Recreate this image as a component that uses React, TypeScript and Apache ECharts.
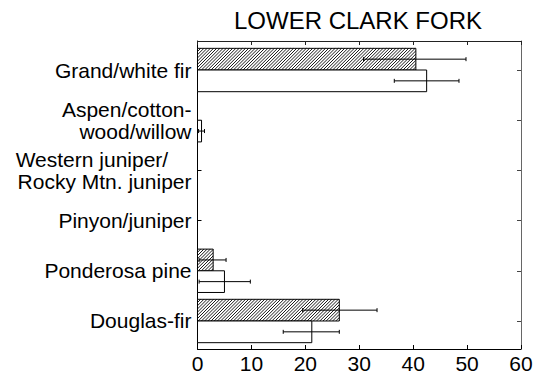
import React, { useEffect, useRef } from "react";
import * as echarts from "echarts";

// Categories from bottom (position 1) to top (position 6)
const categories = [
  "Douglas-fir",
  "Ponderosa pine",
  "Pinyon/juniper",
  "Western juniper/\u00A0\u00A0\u00A0\u00A0\nRocky Mtn. juniper",
  "Aspen/cotton-\nwood/willow",
  "Grand/white fir",
];
const categoryPositions = [1, 2, 3, 4, 5, 6];

// Hatched (upper) bars
const hatchedValues = [26.3, 2.9, 0, 0, 0, 40.5];
const hatchedLow = [19.5, 0.3, 0, 0, 0, 30.8];
const hatchedHigh = [33.3, 5.3, 0, 0, 0, 49.8];

// Open (lower) bars
const openValues = [21.2, 5.0, 0, 0, 0.75, 42.5];
const openLow = [15.9, 0.3, 0, 0, 0.2, 36.5];
const openHigh = [26.3, 9.8, 0, 0, 1.3, 48.5];

const xTicks = [0, 10, 20, 30, 40, 50, 60];
const chartTitle = "LOWER CLARK FORK";

const FONT = "'Liberation Sans', Arial, Helvetica, sans-serif";

function buildData() {
  const rows: number[][] = [];
  categoryPositions.forEach((pos, i) => {
    rows.push([hatchedValues[i], pos, hatchedLow[i], hatchedHigh[i], 0]);
    rows.push([openValues[i], pos, openLow[i], openHigh[i], 1]);
  });
  return rows;
}

function renderItem(params: any, api: any) {
  const v = api.value(0) as number;
  const pos = api.value(1) as number;
  const lo = api.value(2) as number;
  const hi = api.value(3) as number;
  const kind = api.value(4) as number;
  if (v <= 0 && hi <= 0) return null;
  const c0 = api.coord([0, pos]);
  const c1 = api.coord([v, pos]);
  const bandPx = api.size([0, 1])[1];
  const h = bandPx * 0.432;
  const y0 = kind === 0 ? c0[1] - h : c0[1];
  const x0 = c0[0];
  const x1 = c1[0];
  const children: any[] = [];
  if (v > 0) {
    children.push({
      type: "rect",
      shape: { x: x0, y: y0, width: x1 - x0, height: h },
      style: { fill: "#fff", stroke: "none" },
    });
    if (kind === 0) {
      const step = 3.2;
      const ya = y0;
      const yb = y0 + h;
      for (let c = x0 + ya; c <= x1 + yb; c += step) {
        const sx = Math.max(x0, c - yb);
        const ex = Math.min(x1, c - ya);
        if (ex > sx) {
          children.push({
            type: "line",
            shape: { x1: sx, y1: c - sx, x2: ex, y2: c - ex },
            style: { stroke: "#000", lineWidth: 0.9 },
          });
        }
      }
    }
    children.push({
      type: "rect",
      shape: { x: x0, y: y0, width: x1 - x0, height: h },
      style: { fill: "none", stroke: "#000", lineWidth: 1 },
    });
  }
  if (hi > 0) {
    const yc = y0 + h / 2;
    const xl = api.coord([lo, pos])[0];
    const xh = api.coord([hi, pos])[0];
    const cap = 2;
    children.push({
      type: "line",
      shape: { x1: xl, y1: yc, x2: xh, y2: yc },
      style: { stroke: "#000", lineWidth: 1 },
    });
    children.push({
      type: "line",
      shape: { x1: xl, y1: yc - cap, x2: xl, y2: yc + cap },
      style: { stroke: "#000", lineWidth: 1 },
    });
    children.push({
      type: "line",
      shape: { x1: xh, y1: yc - cap, x2: xh, y2: yc + cap },
      style: { stroke: "#000", lineWidth: 1 },
    });
  }
  return { type: "group", children };
}

export default function App() {
  const ref = useRef<HTMLDivElement>(null);
  useEffect(() => {
    if (!ref.current) return;
    const chart = echarts.init(ref.current, null, { renderer: "svg" });
    const yMin = 0.442;
    const yMax = 6.578;
    const xMin = xTicks[0];
    const xMax = xTicks[xTicks.length - 1];
    const xInterval = xTicks[1] - xTicks[0];
    chart.setOption({
      animation: false,
      backgroundColor: "#fff",
      grid: { left: 197.5, top: 41, width: 323.5, height: 308, containLabel: false },
      graphic: [
        {
          type: "text",
          x: 358,
          y: 20,
          style: {
            text: chartTitle,
            fontFamily: FONT,
            fontSize: 24,
            fill: "#000",
            textAlign: "center",
            textVerticalAlign: "middle",
          },
        },
      ],
      xAxis: [
        {
          type: "value",
          position: "bottom",
          min: xMin,
          max: xMax,
          interval: xInterval,
          splitLine: { show: false },
          axisLine: { show: true, lineStyle: { color: "#000", width: 1 } },
          axisTick: { show: true, inside: true, length: 4, lineStyle: { color: "#000" } },
          axisLabel: { show: true, margin: 4, fontFamily: FONT, fontSize: 21, color: "#000" },
        },
        {
          type: "value",
          position: "top",
          min: xMin,
          max: xMax,
          interval: xInterval,
          splitLine: { show: false },
          axisLine: { show: true, onZero: false, lineStyle: { color: "#222", width: 1 } },
          axisTick: { show: true, inside: true, length: 4, lineStyle: { color: "#222" } },
          axisLabel: { show: false },
        },
      ],
      yAxis: [
        {
          type: "value",
          position: "left",
          min: yMin,
          max: yMax,
          splitLine: { show: false },
          axisLine: { show: true, onZero: false, lineStyle: { color: "#000", width: 1 } },
          axisTick: {
            show: true,
            inside: true,
            length: 4,
            customValues: categoryPositions,
            lineStyle: { color: "#000" },
          },
          axisLabel: {
            show: true,
            customValues: categoryPositions,
            margin: 6,
            fontFamily: FONT,
            fontSize: 21,
            lineHeight: 22,
            color: "#000",
            align: "right",
            formatter: (val: number) => categories[Math.round(val) - 1] ?? "",
          },
        },
        {
          type: "value",
          position: "right",
          min: yMin,
          max: yMax,
          splitLine: { show: false },
          axisLine: { show: true, onZero: false, lineStyle: { color: "#666", width: 1 } },
          axisTick: {
            show: true,
            inside: true,
            length: 4,
            customValues: categoryPositions,
            lineStyle: { color: "#444" },
          },
          axisLabel: { show: false },
        },
      ],
      series: [
        {
          type: "custom",
          xAxisIndex: 0,
          yAxisIndex: 0,
          renderItem,
          encode: { x: [0, 2, 3], y: 1 },
          data: buildData(),
          clip: false,
        },
      ],
    });
    return () => chart.dispose();
  }, []);
  return (
    <div
      ref={ref}
      style={{ position: "fixed", left: 0, top: 0, width: 544, height: 379, background: "#fff" }}
    />
  );
}
